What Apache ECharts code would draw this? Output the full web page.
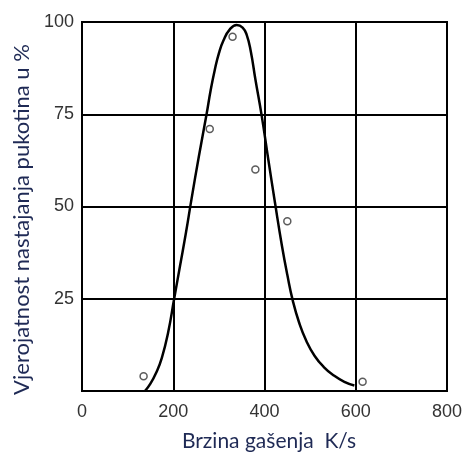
<!DOCTYPE html>
<html>
<head>
<meta charset="utf-8">
<script src="https://cdn.jsdelivr.net/npm/echarts@6/dist/echarts.min.js"></script>
<style>html,body{margin:0;padding:0;background:#fff}#c{width:470px;height:457px}</style>
</head>
<body>
<div id="c"></div>
<script>
var xTicks = [0, 200, 400, 600, 800];
var yTicks = [0, 25, 50, 75, 100];
var curveX = [138, 150, 162, 175, 189, 202, 215, 228, 240, 256, 273, 282, 291, 300, 310, 324, 339, 352, 361, 370, 380, 394, 408, 423, 438, 450, 462, 476, 492, 510, 530, 552, 575, 597];
var curveY = [0, 2, 4.8, 9, 16, 25, 34, 43, 52, 63.5, 75, 81.5, 87, 91.5, 95, 98, 99.2, 98.5, 96.5, 92, 84.5, 74.5, 63, 51, 39.5, 31.5, 24.5, 18.5, 13.5, 9.5, 6.5, 4.2, 2.5, 1.5];
var pointsX = [135, 280, 330, 380, 450, 615];
var pointsY = [4, 71, 96, 60, 46, 2.5];

var curve = curveX.map(function (x, i) { return [x, curveY[i]]; });
var points = pointsX.map(function (x, i) { return [x, pointsY[i]]; });

var chart = echarts.init(document.getElementById('c'));
chart.setOption({
  animation: false,
  grid: { left: 82, right: 23, top: 22, bottom: 64, show: true, borderColor: '#000', borderWidth: 2, backgroundColor: 'transparent' },
  xAxis: {
    type: 'value', min: xTicks[0], max: xTicks[xTicks.length - 1], interval: 200,
    name: 'Brzina gašenja  K/s', nameLocation: 'middle', nameGap: 40,
    nameTextStyle: { color: '#1f2a55', fontSize: 21, fontFamily: 'Lato', padding: [0, 0, 0, 9] },
    axisLine: { show: true, lineStyle: { color: '#000', width: 2 } },
    axisTick: { show: false },
    axisLabel: { color: '#333', fontSize: 18, fontFamily: 'Liberation Sans', margin: 12 },
    splitLine: { show: true, lineStyle: { color: '#000', width: 2 } }
  },
  yAxis: {
    type: 'value', min: yTicks[0], max: yTicks[yTicks.length - 1], interval: 25,
    name: 'Vjerojatnost nastajanja pukotina u %', nameLocation: 'middle', nameGap: 46,
    nameTextStyle: { color: '#1f2a55', fontSize: 22, fontFamily: 'Lato', padding: [0, 0, 0, -26] },
    axisLine: { show: true, lineStyle: { color: '#000', width: 2 } },
    axisTick: { show: false },
    axisLabel: { color: '#333', fontSize: 18, fontFamily: 'Liberation Sans', margin: 8,
      formatter: function (v) { return v === 0 ? '' : String(v); } },
    splitLine: { show: true, lineStyle: { color: '#000', width: 2 } }
  },
  series: [
    {
      type: 'line', data: curve, smooth: 0.5, showSymbol: false,
      lineStyle: { color: '#000', width: 2.5 }, z: 3
    },
    {
      type: 'scatter', data: points, symbol: 'circle', symbolSize: 7,
      itemStyle: { color: '#fff', borderColor: '#333', borderWidth: 1.5 }, z: 4
    }
  ]
});
</script>
</body>
</html>
